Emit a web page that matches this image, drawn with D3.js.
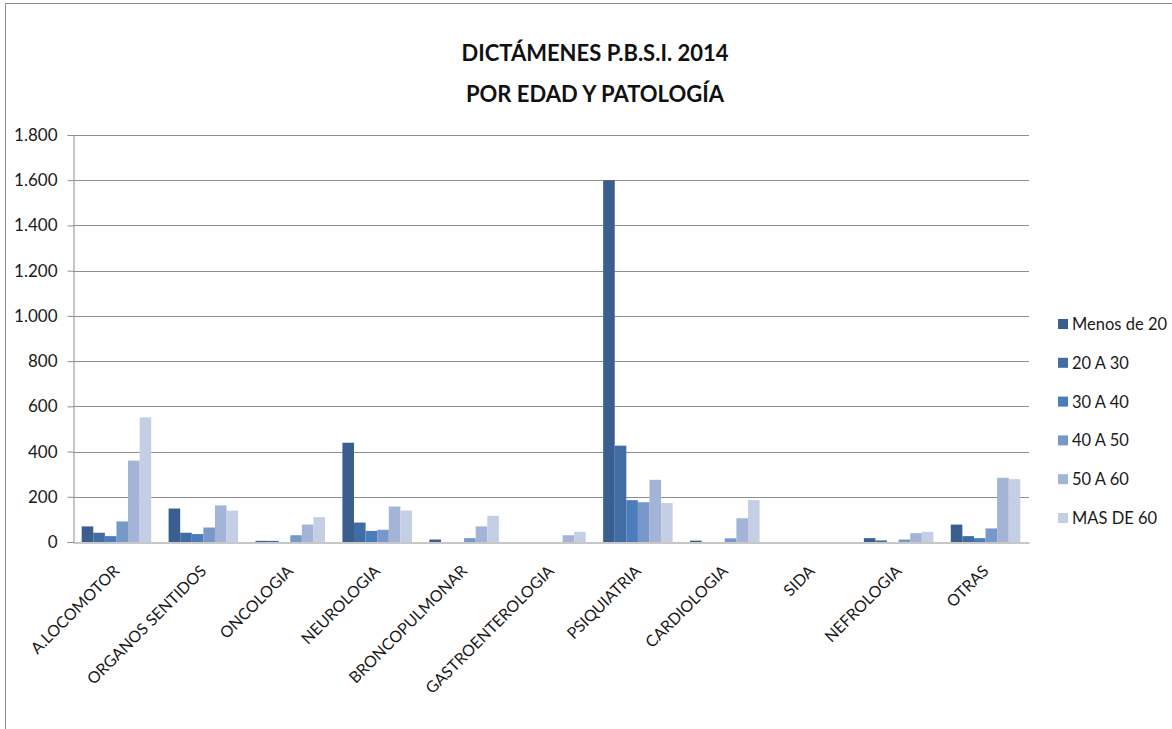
<!DOCTYPE html>
<html>
<head>
<meta charset="utf-8">
<script src="https://cdn.jsdelivr.net/npm/d3@7/dist/d3.min.js"></script>
<style>
  html, body { margin: 0; padding: 0; background: #fff; }
  svg { display: block; font-family: Lato, "Open Sans", sans-serif; }
</style>
</head>
<body>
<svg id="chart" width="1172" height="729"></svg>
<script>
const categories = ["A.LOCOMOTOR", "ORGANOS SENTIDOS", "ONCOLOGIA", "NEUROLOGIA", "BRONCOPULMONAR",
  "GASTROENTEROLOGIA", "PSIQUIATRIA", "CARDIOLOGIA", "SIDA", "NEFROLOGIA", "OTRAS"];
const seriesNames = ["Menos de 20", "20 A 30", "30 A 40", "40 A 50", "50 A 60", "MAS DE 60"];
const menos20 = [69, 148, 5, 439, 11, 0, 1600, 6, 0, 17, 77];
const a20_30  = [41, 41, 5, 86, 0, 0, 426, 0, 0, 7, 26];
const a30_40  = [26, 35, 0, 49, 0, 0, 185, 0, 0, 0, 17];
const a40_50  = [91, 64, 30, 54, 17, 0, 176, 16, 0, 11, 60];
const a50_60  = [360, 162, 77, 157, 69, 30, 275, 105, 0, 39, 284];
const mas60   = [551, 139, 110, 139, 116, 45, 172, 185, 0, 45, 278];
const seriesValues = [menos20, a20_30, a30_40, a40_50, a50_60, mas60];
const yTicks = [0, 200, 400, 600, 800, 1000, 1200, 1400, 1600, 1800];
const titleLines = ["DICTÁMENES P.B.S.I. 2014", "POR EDAD Y PATOLOGÍA"];
const colors = ["#3a5f8f", "#406ea4", "#4a7dbb", "#7798c9", "#a3b4d6", "#c4cfe5"];

const svg = d3.select("#chart");

// outer chart frame
svg.append("path").attr("d", "M5.5,729 V3.5 H1172").attr("fill", "none").attr("stroke", "#8c8c8c").attr("stroke-width", 1);

const pLeft = 73, pRight = 1029, pTop = 135, pBottom = 542;
const x0 = d3.scaleBand().domain(categories).range([pLeft, pRight]).padding(0);
const x1 = d3.scaleBand().domain(d3.range(seriesNames.length))
  .range([x0.bandwidth() * 0.1, x0.bandwidth() * 0.9]).padding(0);
const y = d3.scaleLinear().domain([0, 1800]).range([pBottom, pTop]);

const fmt = v => d3.format(",")(v).replace(/,/g, ".");

// gridlines
svg.append("g").selectAll("line").data(yTicks.filter(t => t > 0)).join("line")
  .attr("x1", pLeft).attr("x2", pRight)
  .attr("y1", d => Math.round(y(d)) + 0.5).attr("y2", d => Math.round(y(d)) + 0.5)
  .attr("stroke", "#8f8f8f").attr("stroke-width", 1);

// y axis
const yAxis = d3.axisLeft(y).tickValues(yTicks).tickFormat(fmt).tickSize(6).tickPadding(10);
const gy = svg.append("g").attr("transform", `translate(${pLeft + 0.5},0)`).call(yAxis);
gy.select(".domain").attr("stroke", "#8f8f8f");
gy.selectAll(".tick line").attr("stroke", "#8f8f8f");
gy.selectAll(".tick text").attr("font-size", 17).attr("fill", "#1a1a1a").attr("font-family", "Lato, sans-serif");

// bars
const groups = svg.append("g").selectAll("g").data(categories).join("g")
  .attr("transform", c => `translate(${x0(c)},0)`);
groups.selectAll("rect").data((c, ci) => seriesValues.map((vals, si) => ({ si, v: vals[ci] })))
  .join("rect")
  .attr("x", d => x1(d.si))
  .attr("width", x1.bandwidth())
  .attr("y", d => y(d.v))
  .attr("height", d => y(0) - y(d.v))
  .attr("fill", d => colors[d.si]);

// x axis baseline
const xAxis = d3.axisBottom(x0).tickSize(0).tickFormat("");
const gx = svg.append("g").attr("transform", `translate(0,${pBottom + 0.5})`).call(xAxis);
gx.select(".domain").attr("stroke", "#8f8f8f");

// category labels
svg.append("g").selectAll("text").data(categories).join("text")
  .attr("transform", c => `translate(${x0(c) + x0.bandwidth() / 2 + 4},572) rotate(-45)`)
  .attr("text-anchor", "end")
  .attr("font-size", 16)
  .attr("fill", "#1a1a1a")
  .text(c => c);

// title
svg.append("g").selectAll("text").data(titleLines).join("text")
  .attr("x", 595).attr("y", (d, i) => 61 + i * 41)
  .attr("text-anchor", "middle")
  .attr("font-size", 22).attr("font-weight", "bold").attr("fill", "#111")
  .text(d => d);

// legend
const lg = svg.append("g").selectAll("g").data(seriesNames).join("g")
  .attr("transform", (d, i) => `translate(1058,${324 + i * 38.8})`);
lg.append("rect").attr("x", 0).attr("y", -5).attr("width", 10).attr("height", 10).attr("fill", (d, i) => colors[i]);
lg.append("text").attr("x", 14).attr("y", 6).attr("font-size", 16.5).attr("fill", "#1a1a1a").text(d => d);
</script>
</body>
</html>
